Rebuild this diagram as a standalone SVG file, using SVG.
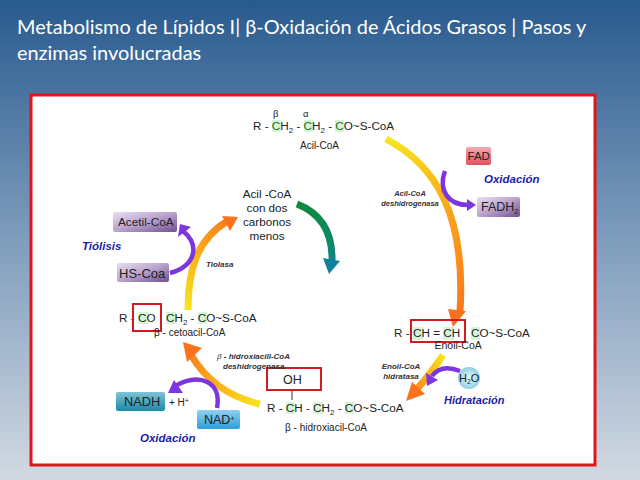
<svg xmlns="http://www.w3.org/2000/svg" width="640" height="480" viewBox="0 0 640 480">
<style>
text{font-family:"Liberation Sans",Arial,sans-serif;fill:#222}
.title{font-family:Lato,"Open Sans",sans-serif;font-size:19.9px;fill:#fff}
.f{font-size:11.7px}
.s{font-size:10px}
.e{font-size:8px;font-style:italic;font-weight:bold;fill:#333}
.o{font-size:11.5px;font-style:italic;font-weight:bold;fill:#1c1ca8}
.box{font-size:12.5px;fill:#222}
.red{fill:none;stroke:#d01c20;stroke-width:2}
.g{fill:#d6f5d6}
.pur{fill:none;stroke:#7d35e0;stroke-width:4.5}
.purh{fill:#7d35e0}
</style>
<defs>
<linearGradient id="bg" x1="0" y1="0" x2="0" y2="1"><stop offset="0" stop-color="#285a8e"/><stop offset=".5" stop-color="#7f9dbd"/><stop offset="1" stop-color="#d2d9e2"/></linearGradient>
<linearGradient id="a1" gradientUnits="userSpaceOnUse" x1="386" y1="138" x2="456" y2="325"><stop offset="0" stop-color="#f7e61e"/><stop offset=".45" stop-color="#fba51a"/><stop offset="1" stop-color="#f9731c"/></linearGradient>
<linearGradient id="a2" gradientUnits="userSpaceOnUse" x1="443" y1="355" x2="406" y2="400"><stop offset="0" stop-color="#f7e61e"/><stop offset=".6" stop-color="#fb9c1a"/><stop offset="1" stop-color="#f9731c"/></linearGradient>
<linearGradient id="a3" gradientUnits="userSpaceOnUse" x1="260" y1="405" x2="183" y2="342"><stop offset="0" stop-color="#f7e61e"/><stop offset=".55" stop-color="#fba51a"/><stop offset="1" stop-color="#f9731c"/></linearGradient>
<linearGradient id="a4" gradientUnits="userSpaceOnUse" x1="188" y1="310" x2="238" y2="217"><stop offset="0" stop-color="#f7e61e"/><stop offset=".5" stop-color="#fbb01a"/><stop offset="1" stop-color="#f9731c"/></linearGradient>
<linearGradient id="a5" gradientUnits="userSpaceOnUse" x1="297" y1="204" x2="331" y2="273"><stop offset="0" stop-color="#0b8a3c"/><stop offset=".55" stop-color="#0e8a5c"/><stop offset="1" stop-color="#12809c"/></linearGradient>
<linearGradient id="pb" x1="0" y1="0" x2="1" y2="1"><stop offset="0" stop-color="#e8def0"/><stop offset=".5" stop-color="#b9a2cc"/><stop offset="1" stop-color="#6f4f92"/></linearGradient>
<linearGradient id="tb" x1="0" y1="0" x2="0" y2="1"><stop offset="0" stop-color="#7cc4d6"/><stop offset="1" stop-color="#1c8aa6"/></linearGradient>
<linearGradient id="nb" x1="0" y1="0" x2="0" y2="1"><stop offset="0" stop-color="#8fd0f0"/><stop offset="1" stop-color="#2e9fd8"/></linearGradient>
<linearGradient id="rb" x1="0" y1="0" x2="0" y2="1"><stop offset="0" stop-color="#f4a9b0"/><stop offset="1" stop-color="#e0505e"/></linearGradient>
<radialGradient id="wb"><stop offset="0" stop-color="#f0fafd"/><stop offset="1" stop-color="#8ccfe2"/></radialGradient>
</defs>
<rect width="640" height="480" fill="url(#bg)"/>
<text class="title" x="17" y="34">Metabolismo de Lípidos I| β-Oxidación de Ácidos Grasos | Pasos y</text>
<text class="title" x="17" y="60">enzimas involucradas</text>
<rect x="31" y="95" width="564" height="370" fill="#fff" stroke="#e0161c" stroke-width="3"/>

<g id="connectors" fill="none">
<path d="M386 139C436 165 466 215 460 312" stroke="url(#a1)" stroke-width="7"/>
<path d="M448 309L466 311L453 327Z" fill="#f9731c"/>
<path d="M443 355Q432 372 417 389" stroke="url(#a2)" stroke-width="7"/>
<path d="M412 382L425 394L406 401Z" fill="#f9731c"/>
<path d="M260 404C228 397 206 380 191 355" stroke="url(#a3)" stroke-width="7"/>
<path d="M183 342L202 348L187 362Z" fill="#f9731c"/>
<path d="M188 310C188 270 197 240 226 222" stroke="url(#a4)" stroke-width="7"/>
<path d="M238 217L222 216L230 231Z" fill="#f9731c"/>
<path d="M297 204C320 213 333 232 332 262" stroke="url(#a5)" stroke-width="7"/>
<path d="M323 258L340 261L329 274Z" fill="#12809c"/>
<path class="pur" d="M445 171C438 190 448 205 468 205"/>
<path class="purh" d="M467 199L476 205L467 211Z"/>
<path class="pur" d="M460 371C447 366 438 368 432 376"/>
<path class="purh" d="M426 373L438 380L427 386Z"/>
<path class="pur" d="M170 273C196 266 200 245 183 231"/>
<path class="purh" d="M180 224L191 227L178 237Z"/>
<path class="pur" d="M217 408C222 382 200 372 175 386"/>
<path class="purh" d="M168 393L174 380L183 393Z"/>
</g>

<g id="acil-coa">
<rect class="g" x="272" y="120" width="9" height="12"/><rect class="g" x="304" y="120" width="9" height="12"/><rect class="g" x="335" y="120" width="9" height="12"/>
<text class="f" x="253" y="129.500">R - <tspan fill="#1a6b1a">C</tspan>H<tspan font-size="8" dy="3">2</tspan><tspan dy="-3"> - </tspan><tspan fill="#1a6b1a">C</tspan>H<tspan font-size="8" dy="3">2</tspan><tspan dy="-3"> - </tspan><tspan fill="#1a6b1a">C</tspan>O~S-CoA</text>
<text x="273" y="117" style="font-size:9.5px">β</text>
<text x="303" y="117" style="font-size:9.5px">α</text>
<text class="s" x="300" y="149">Acil-CoA</text>
</g>

<g id="fad"><rect x="466" y="147" width="25" height="18" rx="2" fill="url(#rb)"/><text class="box" x="467.500" y="160" style="font-size:11.5px">FAD</text></g>
<g id="fadh2"><rect x="477" y="197" width="43" height="20" rx="2" fill="url(#pb)"/><text class="box" x="481" y="211">FADH<tspan font-size="7" dy="3">2</tspan></text></g>
<text class="o" x="484" y="183">Oxidación</text>
<text class="e" text-anchor="middle" style="font-size:7.5px"><tspan x="410" y="196">Acil-CoA</tspan><tspan x="410" y="206">deshidrogenasa</tspan></text>

<g id="enoil-coa">
<rect class="g" x="413" y="327" width="10" height="13"/><rect class="g" x="443" y="327" width="11" height="13"/><rect class="g" x="471" y="327" width="9" height="13"/>
<text class="f" x="394" y="337">R -</text>
<text class="f" x="413" y="337">CH = CH</text>
<text class="f" x="471" y="337">CO~S-CoA</text>
<rect class="red" x="411" y="320" width="54" height="22"/>
<text x="434.500" y="349" style="font-size:10.500px">Enoil-CoA</text>
</g>
<text class="e" text-anchor="middle"><tspan x="401" y="369">Enoil-CoA</tspan><tspan x="401" y="378.500">hidratasa</tspan></text>
<g id="h2o"><circle cx="469" cy="378" r="11" fill="url(#wb)"/><text x="459" y="382" style="font-size:11px">H<tspan font-size="7" dy="2">2</tspan><tspan dy="-2">O</tspan></text></g>
<text class="o" x="444" y="404" style="font-size:11px">Hidratación</text>

<g id="hidroxiacil-coa">
<rect class="red" x="267" y="368" width="54" height="22"/>
<text x="283" y="383.500" style="font-size:12.500px">OH</text>
<path d="M292 391V400" stroke="#333" fill="none"/>
<rect class="g" x="286" y="402" width="9" height="12"/><rect class="g" x="313.500" y="402" width="9" height="12"/><rect class="g" x="345" y="402" width="9" height="12"/>
<text class="f" x="267" y="412">R - CH - CH<tspan font-size="8" dy="3">2</tspan><tspan dy="-3"> - CO~S-CoA</tspan></text>
<text class="s" x="285" y="431">β - hidroxiacil-CoA</text>
</g>
<text class="e" x="217" y="359"><tspan font-weight="normal">β</tspan> - hidroxiacilI-CoA</text>
<text class="e" x="223" y="369">deshidrogenasa</text>

<g id="nadh"><rect x="116" y="392" width="49" height="19" rx="2" fill="url(#tb)"/><text class="box" x="124" y="406" style="font-size:12.800px">NADH</text></g>
<text x="169" y="406" style="font-size:10px">+ H<tspan font-size="7" dy="-3">+</tspan></text>
<g id="nad"><rect x="197" y="410" width="43" height="19" rx="2" fill="url(#nb)"/><text class="box" x="204" y="424">NAD<tspan font-size="7" dy="-3">+</tspan></text></g>
<text class="o" x="140" y="442">Oxidación</text>

<g id="cetoacil-coa">
<rect class="g" x="138" y="312" width="11" height="12"/><rect class="g" x="166" y="312" width="10" height="12"/><rect class="g" x="198" y="312" width="9" height="12"/>
<text class="f" x="119" y="322">R -</text><text class="f" x="138" y="322">CO</text>
<text class="f" x="166" y="322">CH<tspan font-size="8" dy="3">2</tspan><tspan dy="-3"> - CO~S-CoA</tspan></text>
<rect class="red" x="133" y="304" width="28" height="27"/>
<text class="s" x="154" y="336">β - cetoacil-CoA</text>
</g>
<text class="e" x="206" y="267">Tiolasa</text>
<g id="hs-coa"><rect x="117" y="263" width="52" height="19" rx="2" fill="url(#pb)"/><text class="box" x="119" y="278" style="font-size:13px">HS-Coa</text></g>
<g id="acetil-coa"><rect x="113" y="212" width="64" height="20" rx="2" fill="url(#pb)"/><text class="box" x="118" y="226" style="font-size:11.800px">Acetil-CoA</text></g>
<text class="o" x="82" y="250">Tiólisis</text>
<g id="acil-coa-menos" text-anchor="middle">
<text class="f" x="267" y="198">Acil -CoA</text><text class="f" x="267" y="212">con dos</text><text class="f" x="267" y="226">carbonos</text><text class="f" x="267" y="240">menos</text>
</g>
</svg>
